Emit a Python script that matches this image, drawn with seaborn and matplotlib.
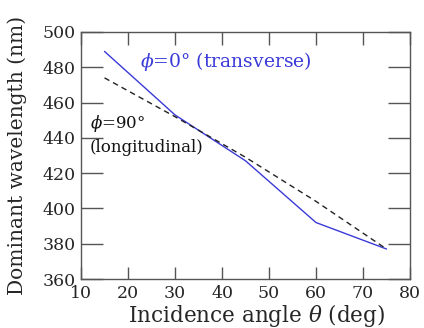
import matplotlib
matplotlib.use("Agg")
import matplotlib.pyplot as plt
import seaborn as sns
import pandas as pd

angles_t = [15, 30, 45, 60, 75]
wl_transverse = [489, 453, 427, 392, 377]
angles_l = [15, 30, 45, 60, 75]
wl_longitudinal = [474, 452, 429, 404, 377]
xticks = [10, 20, 30, 40, 50, 60, 70, 80]
yticks = [360, 380, 400, 420, 440, 460, 480, 500]

sns.set_theme(style="ticks")
plt.rcParams['font.family'] = ['DejaVu Serif']
plt.rcParams['mathtext.fontset'] = 'dejavuserif'

fig = plt.figure(figsize=(4.24, 3.28), dpi=100)
ax = fig.add_axes([81/424, 1-279/328, (410-81)/424, (279-32)/328])

dt = pd.DataFrame({"x": angles_t, "y": wl_transverse})
dl = pd.DataFrame({"x": angles_l, "y": wl_longitudinal})
sns.lineplot(data=dt, x="x", y="y", ax=ax, color="#3a3ad8", lw=1.0)
sns.lineplot(data=dl, x="x", y="y", ax=ax, color="#222222", lw=1.0, linestyle=(0, (4, 3)))

ax.set_xlim(10, 80)
ax.set_ylim(360, 500)
ax.set_xticks(xticks)
ax.set_yticks(yticks)
ax.tick_params(axis='both', direction='in', top=True, right=True, labelsize=12.5,
               color='#555555', width=1.0, pad=4)
ax.tick_params(axis='x', length=9)
ax.tick_params(axis='y', length=16)
for s in ax.spines.values():
    s.set_color('#555555')
    s.set_linewidth(1.0)

ax.set_xlabel(r"Incidence angle $\theta$ (deg)", fontsize=15.5)
ax.set_ylabel("Dominant wavelength (nm)", fontsize=14.5)
ax.xaxis.set_label_coords(0.535, -0.095)
ax.yaxis.set_label_coords(-0.165, 0.5)

ax.text(0.179, 0.879, r"$\phi$=0$\degree$ (transverse)", transform=ax.transAxes,
        color="#3a3ad8", fontsize=13.5, va='center', ha='left')
ax.text(0.027, 0.628, r"$\phi$=90$\degree$", transform=ax.transAxes,
        color="#111111", fontsize=12, va='center', ha='left')
ax.text(0.027, 0.534, "(longitudinal)", transform=ax.transAxes,
        color="#111111", fontsize=12, va='center', ha='left')

fig.savefig("out.png", dpi=100)
